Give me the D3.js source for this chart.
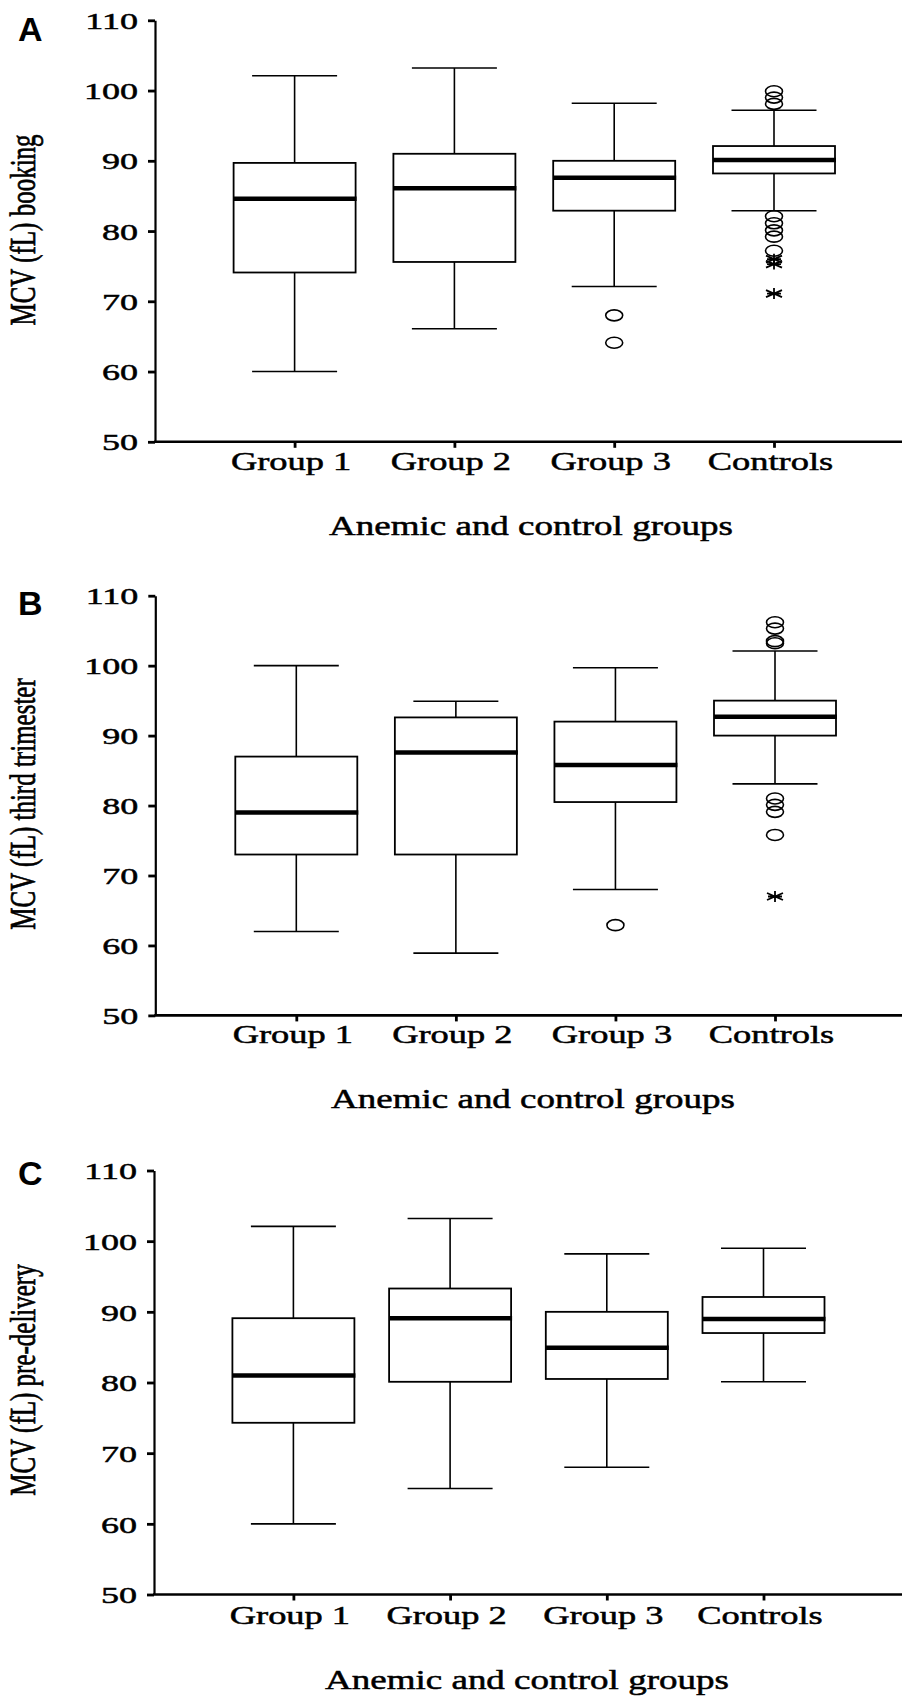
<!DOCTYPE html>
<html>
<head>
<meta charset="utf-8">
<script src="https://cdn.jsdelivr.net/npm/d3@7"></script>
<style>
  html, body { margin: 0; padding: 0; background: #fff; }
  svg { display: block; }
  text.serif { font-family: "Liberation Serif", "Times New Roman", serif; fill: #000; stroke: #000; stroke-width: 0.5px; }
  text.letter { font-family: "Liberation Sans", Arial, sans-serif; font-weight: bold; fill: #000; }
</style>
</head>
<body>
<svg id="chart" width="902" height="1697"></svg>
<script>
// ---------- data ----------
const categories = ["Group 1", "Group 2", "Group 3", "Controls"];
const yTicks = [50, 60, 70, 80, 90, 100, 110];
const panelLetters = ["A", "B", "C"];
const yTitles = ["MCV (fL) booking", "MCV (fL) third trimester", "MCV (fL) pre-delivery"];
const xTitle = "Anemic and control groups";

// [lower whisker, Q1, median, Q3, upper whisker] per category
const bookingStats = [
  [60.0, 74.1, 84.6, 89.7, 102.1],
  [66.1, 75.6, 86.1, 91.0, 103.2],
  [72.1, 82.9, 87.6, 90.0, 98.2],
  [82.9, 88.2, 90.1, 92.1, 97.2]
];
const bookingCircles = [[], [], [68.0, 64.1], [99.9, 99.0, 98.1, 82.1, 81.1, 80.1, 79.2, 77.2]];
const bookingStars = [[], [], [], [76.0, 75.3, 71.1]];

const thirdStats = [
  [62.0, 73.0, 79.0, 87.0, 100.0],
  [58.9, 73.0, 87.6, 92.6, 94.9],
  [68.0, 80.5, 85.8, 92.0, 99.7],
  [83.1, 90.0, 92.7, 95.0, 102.1]
];
const thirdCircles = [[], [], [62.9], [106.2, 105.3, 103.5, 103.2, 81.0, 80.1, 79.1, 75.8]];
const thirdStars = [[], [], [], [67.0]];

const preStats = [
  [60.0, 74.3, 81.0, 89.1, 102.1],
  [65.0, 80.1, 89.1, 93.3, 103.2],
  [68.0, 80.5, 84.9, 90.0, 98.2],
  [80.1, 87.0, 89.0, 92.1, 99.0]
];
const preCircles = [[], [], [], []];
const preStars = [[], [], [], []];

// ---------- layout ----------
const W = 902;
const panels = [
  { stats: bookingStats, circles: bookingCircles, stars: bookingStars,
    top: 20.3, bottom: 441.8, axisX: 155, first: 294.6, last: 774,
    letterY: 41, catY: 470, titleY: 535, titleX: 531, yLabY: 230 },
  { stats: thirdStats, circles: thirdCircles, stars: thirdStars,
    top: 595.7, bottom: 1015.4, axisX: 155.3, first: 296.3, last: 775,
    letterY: 615, catY: 1043.5, titleY: 1108, titleX: 533, yLabY: 804 },
  { stats: preStats, circles: preCircles, stars: preStars,
    top: 1170.5, bottom: 1594.5, axisX: 154, first: 293.4, last: 763.5,
    letterY: 1185, catY: 1623.5, titleY: 1689, titleX: 527, yLabY: 1380 }
];
const boxW = 122, capW = 85;

const svg = d3.select("#chart");
svg.append("rect").attr("width", W).attr("height", 1697).attr("fill", "#fff");

function stretch(sel, factor) {
  sel.each(function () {
    const w = this.getComputedTextLength();
    d3.select(this).attr("textLength", w * factor).attr("lengthAdjust", "spacingAndGlyphs");
  });
}

const starPath = "M0,-5.5L0,5.5M-8,-3.5L8,3.5M-8,3.5L8,-3.5M-7,0L7,0";

panels.forEach((p, i) => {
  const g = svg.append("g");
  const y = d3.scaleLinear().domain([50, 110]).range([p.bottom, p.top]);
  const x = d3.scalePoint().domain(categories).range([p.first, p.last]);

  // y axis
  const ya = g.append("g").attr("transform", `translate(${p.axisX},0)`)
    .call(d3.axisLeft(y).tickValues(yTicks).tickSize(7).tickSizeOuter(0).tickPadding(10));
  ya.select(".domain").attr("stroke-width", 2.2);
  ya.selectAll(".tick line").attr("stroke-width", 2.8);
  ya.selectAll(".tick text").attr("class", "serif")
    .style("font-size", "24px").attr("dy", "0.34em");
  stretch(ya.selectAll(".tick text"), 1.5);

  // x axis
  const xa = g.append("g").attr("transform", `translate(0,${p.bottom})`)
    .call(d3.axisBottom(x).tickSize(6).tickSizeOuter(0));
  xa.select(".domain").remove();
  xa.selectAll(".tick line").attr("stroke-width", 2.8);
  xa.selectAll(".tick text").attr("class", "serif")
    .style("font-size", "26px").attr("y", p.catY - p.bottom).attr("dy", 0).attr("dx", -4);
  stretch(xa.selectAll(".tick text"), 1.4);
  g.append("line").attr("x1", p.axisX - 1).attr("x2", W)
    .attr("y1", p.bottom).attr("y2", p.bottom)
    .attr("stroke", "#000").attr("stroke-width", 2.6);

  // boxes
  const data = categories.map((c, k) => ({ c, s: p.stats[k], circ: p.circles[k], star: p.stars[k] }));
  const bx = g.selectAll(".box").data(data).join("g").attr("class", "box");

  bx.append("line").attr("x1", d => x(d.c)).attr("x2", d => x(d.c))
    .attr("y1", d => y(d.s[3])).attr("y2", d => y(d.s[4]))
    .attr("stroke", "#000").attr("stroke-width", 1.6);
  bx.append("line").attr("x1", d => x(d.c)).attr("x2", d => x(d.c))
    .attr("y1", d => y(d.s[1])).attr("y2", d => y(d.s[0]))
    .attr("stroke", "#000").attr("stroke-width", 1.6);
  bx.append("line").attr("x1", d => x(d.c) - capW / 2).attr("x2", d => x(d.c) + capW / 2)
    .attr("y1", d => y(d.s[4])).attr("y2", d => y(d.s[4]))
    .attr("stroke", "#000").attr("stroke-width", 1.6);
  bx.append("line").attr("x1", d => x(d.c) - capW / 2).attr("x2", d => x(d.c) + capW / 2)
    .attr("y1", d => y(d.s[0])).attr("y2", d => y(d.s[0]))
    .attr("stroke", "#000").attr("stroke-width", 1.6);
  bx.append("rect").attr("x", d => x(d.c) - boxW / 2).attr("width", boxW)
    .attr("y", d => y(d.s[3])).attr("height", d => y(d.s[1]) - y(d.s[3]))
    .attr("fill", "#fff").attr("stroke", "#000").attr("stroke-width", 1.8);
  bx.append("line").attr("x1", d => x(d.c) - boxW / 2).attr("x2", d => x(d.c) + boxW / 2 + 1)
    .attr("y1", d => y(d.s[2])).attr("y2", d => y(d.s[2]))
    .attr("stroke", "#000").attr("stroke-width", 4.5);

  // outliers
  bx.selectAll(".circ").data(d => d.circ.map(v => ({ c: d.c, v }))).join("ellipse")
    .attr("cx", d => x(d.c)).attr("cy", d => y(d.v)).attr("rx", 8.5).attr("ry", 5.5)
    .attr("fill", "none").attr("stroke", "#000").attr("stroke-width", 1.6);
  bx.selectAll(".star").data(d => d.star.map(v => ({ c: d.c, v }))).join("path")
    .attr("transform", d => `translate(${x(d.c)},${y(d.v)})`)
    .attr("d", starPath).attr("stroke", "#000").attr("stroke-width", 1.8).attr("fill", "none");

  // titles
  g.append("text").attr("class", "serif").attr("x", p.titleX).attr("y", p.titleY)
    .attr("text-anchor", "middle").style("font-size", "27px").text(xTitle)
    .call(s => stretch(s, 1.37));
  g.append("text").attr("class", "serif")
    .attr("transform", `translate(35,${p.yLabY}) scale(1.4,1) rotate(-90)`)
    .attr("text-anchor", "middle").style("font-size", "25px").text(yTitles[i]);
  g.append("text").attr("class", "letter").attr("x", 18).attr("y", p.letterY)
    .style("font-size", "34px").text(panelLetters[i]);
});
</script>
</body>
</html>
